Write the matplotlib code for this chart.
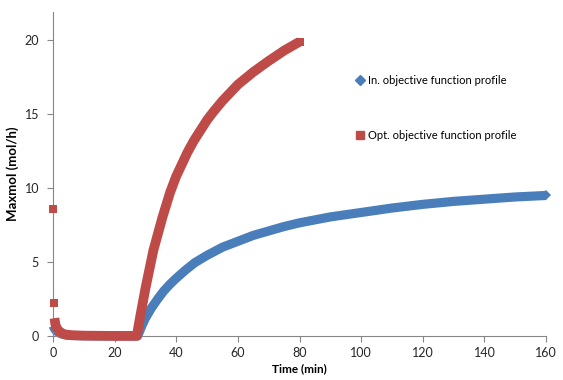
import matplotlib
matplotlib.use("Agg")
import matplotlib.pyplot as plt
from matplotlib.lines import Line2D

# Data
blue_t = [0, 0.5, 1, 2, 3, 4, 5, 7, 10, 15, 20, 25, 27.5, 29, 30, 32, 34, 36, 38, 40, 43,
          46, 50, 55, 60, 65, 70, 75, 80, 85, 90, 95, 100, 110, 120, 130, 140, 150, 160]
blue_y = [0.7, 0.5, 0.35, 0.2, 0.12, 0.07, 0.04, 0.02, 0.01, 0.0, 0.0, 0.0, 0.0, 0.75, 1.2,
          1.9, 2.5, 3.05, 3.5, 3.9, 4.45, 4.95, 5.45, 6.0, 6.4, 6.8, 7.1, 7.4, 7.65, 7.85,
          8.05, 8.2, 8.35, 8.65, 8.9, 9.1, 9.25, 9.4, 9.5]

red_t = [0, 0.25, 0.5, 0.75, 1, 1.5, 2, 3, 4, 6, 10, 15, 20, 27.2, 28.3, 30, 32.6, 35.5,
         38, 40, 43.6, 45.7, 50, 52.2, 55, 60, 65, 70, 75, 80]
red_y = [8.6, 2.2, 1.2, 0.85, 0.65, 0.45, 0.32, 0.18, 0.1, 0.05, 0.02, 0.01, 0.0, 0.0, 1.3,
         3.2, 5.8, 8.0, 9.7, 10.8, 12.4, 13.2, 14.6, 15.2, 15.9, 17.0, 17.85, 18.6, 19.3,
         19.9]

labels = ["In. objective function profile", "Opt. objective function profile"]
x_ticks = [0, 20, 40, 60, 80, 100, 120, 140, 160]
y_ticks = [0, 5, 10, 15, 20]

BLUE = "#4a7ebb"
RED = "#be4b48"
GRAY = "#868686"

plt.rcParams['font.family'] = ['Lato', 'DejaVu Sans']

fig = plt.figure(figsize=(5.63, 3.80), dpi=100)
ax = fig.add_axes([0.094, 0.116, 0.876, 0.852])

ax.plot(blue_t, blue_y, '-', color=BLUE, lw=6.6, solid_capstyle='butt',
        solid_joinstyle='round', clip_on=False, zorder=2)
ax.plot(blue_t[-1:], blue_y[-1:], 'D', color=BLUE, ms=5.5, mew=0, clip_on=False, zorder=2)
ax.plot(red_t[:2], red_y[:2], 's', color=RED, ms=6.2, mew=0, clip_on=False, zorder=3)
ax.plot(red_t[2:], red_y[2:], '-', color=RED, lw=7.0, solid_capstyle='butt',
        solid_joinstyle='round', clip_on=False, zorder=3)
ax.plot(red_t[-1:], red_y[-1:], 's', color=RED, ms=6.2, mew=0, clip_on=False, zorder=3)

ax.set_xlim(0, 160)
ax.set_ylim(0, 21.9)
ax.set_xticks(x_ticks)
ax.set_yticks(y_ticks)

for s in ['top', 'right']:
    ax.spines[s].set_visible(False)
for s in ['left', 'bottom']:
    ax.spines[s].set_color(GRAY)
    ax.spines[s].set_linewidth(0.8)
ax.tick_params(axis='both', colors=GRAY, length=4, width=0.8, labelsize=9,
               labelcolor='#262626')
ax.tick_params(axis='y', pad=6)
ax.tick_params(axis='x', pad=4)

ax.set_xlabel("Time (min)", fontsize=8.5, fontweight='bold', labelpad=3)
ax.set_ylabel("Maxmol (mol/h)", fontsize=9.5, fontweight='bold', labelpad=4)

handles = [Line2D([], [], marker='D', color=BLUE, ls='none', ms=5),
           Line2D([], [], marker='s', color=RED, ls='none', ms=6)]
ax.legend(handles, labels, loc='upper left', bbox_to_anchor=(0.615, 0.806),
          frameon=False, fontsize=8.0, labelspacing=3.95, handlelength=0.7,
          handletextpad=0.35, borderaxespad=0, borderpad=0)

fig.savefig("out.png", dpi=100)
